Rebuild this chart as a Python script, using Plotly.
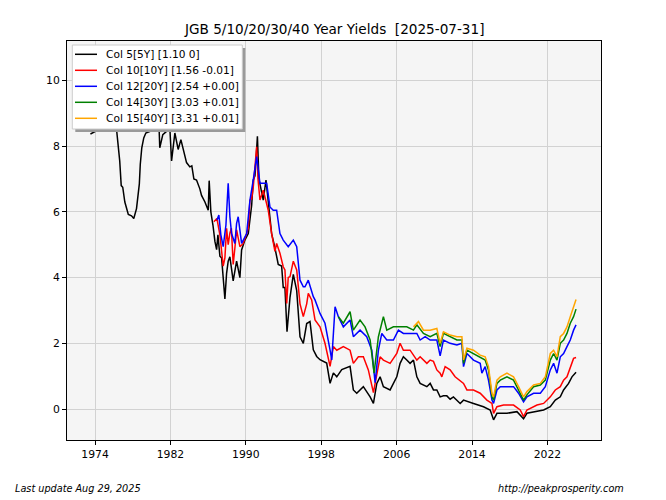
import pandas as pd
import plotly.graph_objects as go

# ---------------- data (decimal year, yield %) ----------------
y5_t = [1973.51, 1974.50, 1974.92, 1975.50, 1976.27, 1976.62, 1976.78, 1976.94, 1977.16, 1977.37,
        1977.53, 1977.87, 1978.11, 1978.40, 1978.57, 1978.70, 1978.80, 1978.96, 1979.17, 1979.39,
        1979.81, 1980.24, 1980.56, 1980.87, 1981.19, 1981.59, 1981.78, 1982.12, 1982.47, 1982.82,
        1983.11, 1983.35, 1983.71, 1984.06, 1984.27, 1984.49, 1984.77, 1985.12, 1985.30, 1985.66,
        1985.84, 1986.01, 1986.11, 1986.29, 1986.45, 1986.51, 1986.72, 1986.90, 1987.04, 1987.25,
        1987.43, 1987.60, 1987.78, 1987.96, 1988.13, 1988.31, 1988.66, 1989.02, 1989.37, 1989.55,
        1989.90, 1990.26, 1990.62, 1990.79, 1990.97, 1991.13, 1991.23, 1991.39, 1991.50, 1991.85,
        1992.14, 1992.38, 1992.74, 1993.09, 1993.44, 1993.80, 1993.97, 1994.15, 1994.37, 1994.69,
        1995.04, 1995.40, 1995.75, 1996.10, 1996.46, 1996.81, 1997.16, 1997.52, 1997.87, 1998.58,
        1998.94, 1999.29, 1999.65, 2000.18, 2001.06, 2001.41, 2001.77, 2002.47, 2003.19, 2003.54,
        2003.90, 2004.25, 2004.60, 2005.31, 2006.02, 2006.37, 2006.72, 2007.08, 2007.43, 2007.79,
        2008.15, 2008.50, 2009.21, 2009.56, 2009.91, 2010.27, 2010.62, 2010.97, 2011.33, 2011.68,
        2012.03, 2012.75, 2013.10, 2014.16, 2015.22, 2015.93, 2016.29, 2016.65, 2017.71, 2018.77,
        2019.30, 2019.47, 2019.83, 2020.90, 2021.60, 2022.31, 2022.84, 2023.37, 2023.72, 2024.25,
        2024.61, 2025.04]
y5_v = [8.37, 8.52, 9.0, 9.3, 8.55, 7.55, 6.8, 6.75, 6.3, 6.1,
        5.92, 5.88, 5.8, 6.1, 6.5, 6.85, 7.45, 7.95, 8.25, 8.4,
        8.45, 9.3, 10.5, 7.95, 8.35, 8.45, 9.4, 7.55, 8.4, 7.9,
        8.2, 7.93, 7.5, 7.37, 7.4, 7.0, 6.97, 6.7, 6.5, 6.3,
        6.15, 6.05, 6.95, 6.0, 5.7, 5.6, 5.1, 4.85, 5.3, 4.65,
        4.6, 3.92, 3.35, 4.13, 4.5, 4.63, 3.9, 4.5, 4.0, 4.84,
        5.14, 5.34, 6.2, 6.97, 7.1, 7.8, 8.3, 7.0, 6.87, 6.36,
        6.97, 6.26, 5.34, 4.9, 4.4, 4.35, 3.7, 3.7, 2.35, 3.4,
        4.1, 3.6, 2.2, 2.0, 2.6, 2.66, 1.8, 1.6, 1.5, 1.4,
        0.78, 1.1, 0.98, 1.2, 1.3, 0.58, 0.48, 0.68, 0.37, 0.17,
        0.78, 0.98, 0.68, 0.58, 0.98, 1.39, 1.59, 1.49, 1.39, 1.49,
        0.98, 0.78, 0.68, 0.78, 0.58, 0.58, 0.37, 0.4, 0.4, 0.3,
        0.37, 0.17, 0.27, 0.17, 0.07, -0.03, -0.33, -0.13, -0.13, -0.08,
        -0.23, -0.3, -0.13, -0.08, -0.03, 0.07, 0.27, 0.37, 0.58, 0.78,
        0.98, 1.12]

y10_t = [1986.61, 1986.93, 1987.25, 1987.43, 1987.60, 1987.78, 1987.96, 1988.13, 1988.31, 1988.47,
         1988.66, 1988.84, 1989.02, 1989.37, 1989.72, 1990.09, 1990.26, 1990.44, 1990.62, 1990.79,
         1991.15, 1991.29, 1991.50, 1991.85, 1992.38, 1992.74, 1993.09, 1993.27, 1993.62, 1993.97,
         1994.15, 1994.34, 1994.50, 1994.69, 1995.04, 1995.40, 1995.75, 1996.10, 1996.46, 1996.63,
         1996.99, 1997.34, 1997.87, 1998.40, 1998.94, 1999.29, 1999.65, 2000.35, 2001.06, 2001.41,
         2001.94, 2002.47, 2003.00, 2003.54, 2003.90, 2004.25, 2004.60, 2005.31, 2006.02, 2006.37,
         2006.72, 2007.43, 2008.15, 2008.50, 2009.21, 2009.56, 2009.91, 2010.27, 2010.62, 2010.80,
         2011.15, 2011.68, 2012.21, 2013.10, 2013.46, 2014.16, 2014.87, 2015.58, 2016.12, 2016.29,
         2016.65, 2017.35, 2018.41, 2019.12, 2019.47, 2019.83, 2020.90, 2021.60, 2022.31, 2022.84,
         2023.37, 2023.72, 2024.08, 2024.43, 2024.78, 2025.04]
y10_v = [5.7, 5.8, 5.3, 4.84, 4.35, 4.6, 5.5, 5.0, 5.35, 5.5,
         4.4, 4.9, 5.45, 4.94, 5.04, 5.34, 5.5, 6.36, 6.4, 6.76,
         7.98, 7.0, 6.36, 6.66, 6.05, 5.34, 4.8, 5.04, 4.74, 4.33,
         4.23, 3.21, 4.0, 4.03, 4.5, 4.23, 3.2, 2.81, 3.2, 3.52,
         3.32, 2.71, 2.5, 2.0, 1.3, 1.9, 1.79, 1.9, 1.79, 1.39,
         1.59, 1.59, 1.19, 0.5, 1.09, 1.59, 1.49, 1.39, 1.69, 2.0,
         1.79, 1.79, 1.49, 1.59, 1.39, 1.49, 1.45, 1.19, 1.09, 0.98,
         1.29, 1.19, 0.98, 0.78, 0.58, 0.58, 0.48, 0.27, 0.17, -0.13,
         0.07, 0.12, 0.12, -0.03, -0.23, -0.03, 0.12, 0.17, 0.37, 0.58,
         0.68, 0.88, 0.98, 1.29, 1.54, 1.57]

y20_t = [1986.93, 1987.14, 1987.35, 1987.60, 1987.89, 1988.13, 1988.31, 1988.49, 1988.84, 1989.02,
         1989.19, 1989.55, 1990.09, 1990.44, 1990.79, 1991.15, 1991.50, 1992.21, 1992.56, 1992.91,
         1993.27, 1993.62, 1993.97, 1994.50, 1995.04, 1995.40, 1995.75, 1996.10, 1996.28, 1996.63,
         1997.16, 1997.34, 1997.87, 1998.40, 1998.94, 1999.12, 1999.47, 1999.82, 2000.35, 2001.06,
         2001.41, 2002.12, 2002.83, 2003.37, 2003.72, 2004.07, 2004.43, 2004.96, 2005.66, 2006.19,
         2006.72, 2008.15, 2008.50, 2009.03, 2009.56, 2010.27, 2010.62, 2010.97, 2011.68, 2012.40,
         2012.93, 2013.10, 2013.46, 2014.16, 2014.87, 2015.05, 2015.40, 2015.75, 2016.12, 2016.29,
         2016.65, 2017.00, 2018.41, 2018.94, 2019.47, 2019.83, 2020.54, 2021.25, 2021.78, 2022.31,
         2022.66, 2023.02, 2023.37, 2023.72, 2024.08, 2024.43, 2024.78, 2025.04]
y20_v = [5.75, 5.9, 5.3, 4.94, 5.6, 6.87, 5.85, 5.34, 5.04, 5.65,
         5.85, 5.04, 5.34, 6.36, 6.97, 7.68, 6.87, 6.87, 6.15, 6.05,
         6.05, 5.34, 5.14, 4.94, 5.14, 4.94, 3.92, 3.72, 3.72, 3.92,
         3.42, 3.32, 2.91, 2.61, 1.79, 1.49, 3.11, 2.81, 2.5, 2.71,
         2.2, 2.4, 2.2, 1.79, 0.8, 1.79, 2.3, 2.1, 2.1, 2.4,
         2.3, 2.3, 2.1, 2.2, 2.1, 2.1, 1.62, 2.1, 2.0, 1.95,
         2.0, 1.29, 1.69, 1.49, 1.39, 1.09, 1.29, 0.88, 0.27, 0.17,
         0.58, 0.68, 0.68, 0.48, 0.22, 0.37, 0.48, 0.48, 0.68, 1.19,
         1.39, 1.09, 1.59, 1.69, 1.9, 2.1, 2.4, 2.56]

y30_t = [1999.82, 2000.35, 2001.06, 2001.41, 2002.12, 2002.65, 2003.19, 2003.61, 2004.07, 2004.60,
         2004.96, 2005.66, 2006.37, 2007.08, 2007.79, 2008.15, 2008.85, 2009.56, 2010.27, 2010.62,
         2010.97, 2011.68, 2012.40, 2012.93, 2013.10, 2013.46, 2014.16, 2014.87, 2015.40, 2015.75,
         2016.12, 2016.29, 2016.65, 2017.00, 2017.71, 2018.41, 2018.94, 2019.47, 2019.83, 2020.54,
         2021.25, 2021.78, 2022.31, 2022.66, 2023.02, 2023.37, 2023.72, 2024.08, 2024.43, 2024.78,
         2025.04]
y30_v = [2.81, 2.61, 2.96, 2.4, 2.71, 2.5, 2.1, 1.09, 2.2, 2.81,
         2.4, 2.5, 2.5, 2.5, 2.4, 2.56, 2.3, 2.2, 2.3, 1.9,
         2.3, 2.2, 2.1, 2.1, 1.39, 1.79, 1.69, 1.59, 1.49, 1.19,
         0.37, 0.27, 0.78, 0.88, 0.98, 0.88, 0.58, 0.27, 0.43, 0.68,
         0.73, 0.88, 1.49, 1.69, 1.49, 2.0, 2.1, 2.3, 2.61, 2.81,
         3.04]

y40_t = [2007.79, 2008.32, 2008.85, 2009.56, 2010.27, 2010.62, 2010.97, 2011.68, 2012.40, 2012.93,
         2013.10, 2013.46, 2014.16, 2014.87, 2015.40, 2015.75, 2016.12, 2016.29, 2016.65, 2017.00,
         2017.71, 2018.41, 2018.94, 2019.47, 2019.83, 2020.54, 2021.25, 2021.78, 2022.31, 2022.66,
         2023.02, 2023.37, 2023.72, 2024.08, 2024.43, 2024.78, 2025.04]
y40_v = [2.5, 2.66, 2.4, 2.4, 2.45, 2.0, 2.35, 2.25, 2.2, 2.2,
         1.49, 1.85, 1.79, 1.64, 1.59, 1.29, 0.48, 0.37, 0.88, 0.98,
         1.09, 0.98, 0.68, 0.37, 0.53, 0.73, 0.78, 0.98, 1.69, 1.79,
         1.59, 2.2, 2.3, 2.5, 2.81, 3.11, 3.33]

series_names = ["Col 5[5Y] [1.10 0]", "Col 10[10Y] [1.56 -0.01]", "Col 12[20Y] [2.54 +0.00]",
                "Col 14[30Y] [3.03 +0.01]", "Col 15[40Y] [3.31 +0.01]"]
series_colors = ["black", "red", "blue", "green", "orange"]
tick_years = [1974, 1982, 1990, 1998, 2006, 2014, 2022]
y_ticks = [0, 2, 4, 6, 8, 10]
title_text = "JGB 5/10/20/30/40 Year Yields  [2025-07-31]"
footer_left = "Last update Aug 29, 2025"
footer_right = "http://peakprosperity.com"


def to_dates(years):
    out = []
    for y in years:
        base = pd.Timestamp(year=int(y), month=1, day=1)
        out.append(base + pd.Timedelta(days=(y - int(y)) * 365.25))
    return out


fig = go.Figure()
all_t = [y5_t, y10_t, y20_t, y30_t, y40_t]
all_v = [y5_v, y10_v, y20_v, y30_v, y40_v]
for t, v, name, col in zip(all_t, all_v, series_names, series_colors):
    fig.add_trace(go.Scatter(x=to_dates(t), y=v, mode="lines", name=name,
                             line=dict(color=col, width=1.5), showlegend=False))

FONT = "DejaVu Sans"
W, H = 666, 500
ML, MR, MT, MB = 67, 65, 41, 60
PW, PH = W - ML - MR, H - MT - MB


def px(xp):
    return (xp - ML) / PW


def py(yp):
    return (H - MB - yp) / PH


fig.update_layout(
    width=W, height=H,
    margin=dict(l=ML, r=MR, t=MT, b=MB),
    paper_bgcolor="white",
    plot_bgcolor="#f5f5f5",
    font=dict(family=FONT, size=11, color="black"),
    xaxis=dict(
        type="date",
        range=["1971-01-10", "2027-09-10"],
        tickvals=[pd.Timestamp(year=y, month=1, day=1) for y in tick_years],
        ticktext=[str(y) for y in tick_years],
        showgrid=True, gridcolor="#d2d2d2", gridwidth=1,
        showline=True, linecolor="black", linewidth=1, mirror=True,
        ticks="outside", ticklen=4, tickwidth=1, tickcolor="black",
        tickfont=dict(family=FONT, size=10.8, color="black"),
        zeroline=False,
    ),
    yaxis=dict(
        range=[-0.943, 11.2],
        tickvals=y_ticks,
        showgrid=True, gridcolor="#d2d2d2", gridwidth=1,
        showline=True, linecolor="black", linewidth=1, mirror=True,
        ticks="outside", ticklen=4, tickwidth=1, tickcolor="black",
        tickfont=dict(family=FONT, size=10.8, color="black"),
        zeroline=False,
    ),
)

# manual legend (matplotlib style box with shadow)
shapes = []
shapes.append(dict(type="rect", xref="paper", yref="paper",
                   x0=px(75.3), x1=px(245.3), y0=py(132), y1=py(48),
                   fillcolor="#9a9a9a", line=dict(width=0), layer="above"))
shapes.append(dict(type="rect", xref="paper", yref="paper",
                   x0=px(72.3), x1=px(242.3), y0=py(129), y1=py(45),
                   fillcolor="white", line=dict(color="#cccccc", width=1), layer="above"))
annotations = []
row_y = [54.3, 70.3, 86.3, 102.3, 118.3]
for ry, name, col in zip(row_y, series_names, series_colors):
    shapes.append(dict(type="line", xref="paper", yref="paper",
                       x0=px(75), x1=px(97), y0=py(ry), y1=py(ry),
                       line=dict(color=col, width=1.5), layer="above"))
    annotations.append(dict(text=name, xref="paper", yref="paper", x=px(104), y=py(ry),
                            xanchor="left", yanchor="middle", showarrow=False,
                            font=dict(family=FONT, size=10.6, color="black")))

annotations.append(dict(text=title_text, xref="paper", yref="paper", x=0.5, y=py(29),
                        xanchor="center", yanchor="middle", showarrow=False,
                        font=dict(family=FONT, size=13.6, color="black")))
annotations.append(dict(text="<i>" + footer_left + "</i>", xref="paper", yref="paper",
                        x=px(13), y=py(488), xanchor="left", yanchor="middle", showarrow=False,
                        font=dict(family=FONT, size=9.7, color="black")))
annotations.append(dict(text="<i>" + footer_right + "</i>", xref="paper", yref="paper",
                        x=px(626), y=py(488), xanchor="right", yanchor="middle", showarrow=False,
                        font=dict(family=FONT, size=9.7, color="black")))

fig.update_layout(shapes=shapes, annotations=annotations)
fig.write_html("out.html")
